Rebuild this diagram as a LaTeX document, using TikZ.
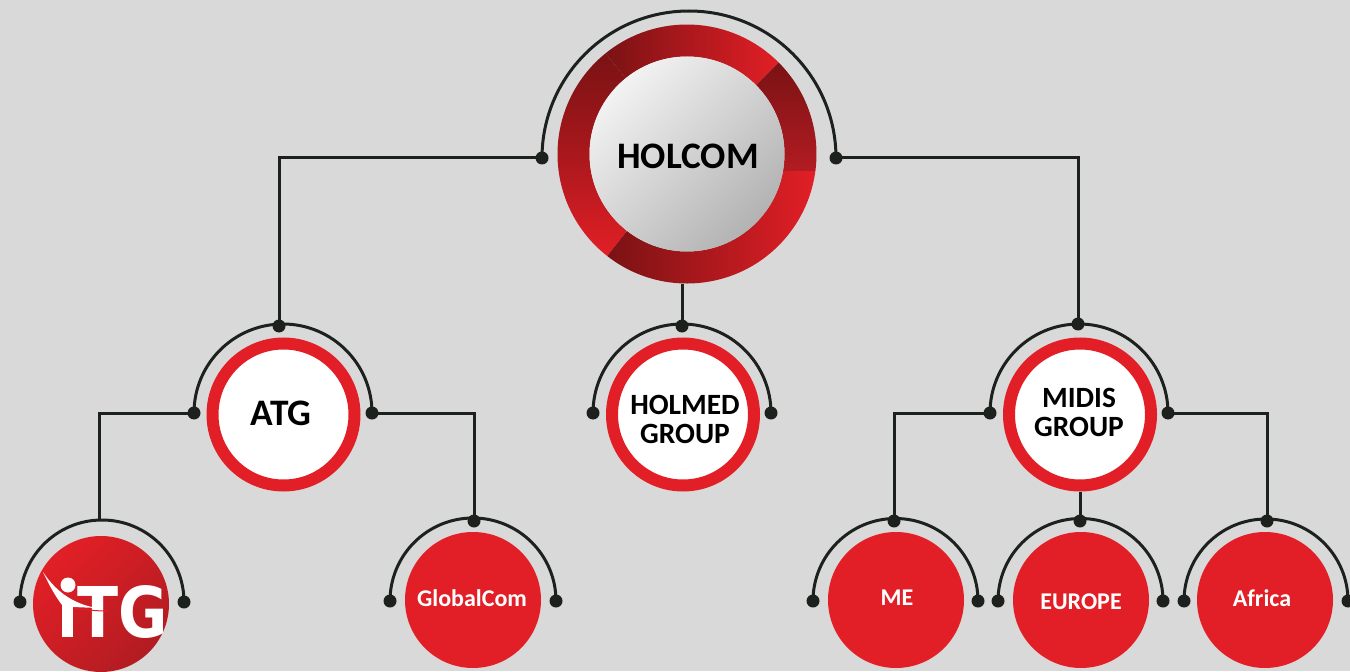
\documentclass[tikz,border=0pt]{standalone}
\usepackage{fontspec}
\setmainfont{Carlito}
\newfontfamily\logofont{DejaVu Sans}
\definecolor{bggray}{HTML}{D9D9D9}
\definecolor{wirecol}{HTML}{1C211E}
\definecolor{redmain}{HTML}{E21F26}
\definecolor{reddark}{HTML}{7A1214}
\definecolor{redmid}{HTML}{B21C22}
\tikzset{
 wire/.style={draw=wirecol,line width=1.5pt},
 dotnode/.style={circle,fill=wirecol,inner sep=0pt,minimum size=6.5pt},
 ringnode/.style={circle,fill=white,draw=redmain,line width=6pt,inner sep=0pt,minimum size=71pt},
 leafnode/.style={circle,fill=redmain,inner sep=0pt,minimum size=68pt},
 ringtext/.style={font=\bfseries\fontsize{18.7}{18.7}\selectfont,align=center,inner sep=0pt},
 leaftext/.style={font=\bfseries\fontsize{12}{14}\selectfont,text=white,inner sep=0pt},
}
\begin{document}
\begin{tikzpicture}[x=0.5pt,y=0.5pt]
 \fill[bggray] (0,0) rectangle (1350,671);
 \useasboundingbox (0,0) rectangle (1350,671);

 \begin{scope}[shift={(687,517)}]
 \shade[left color=reddark,right color=redmain](45:129.5) arc[start angle=45,end angle=129,radius=129.5] -- (129:97.5) arc[start angle=129,end angle=45,radius=97.5] -- cycle;
 \shade[top color=reddark,bottom color=redmain,middle color=reddark!55!redmain](129:129.5) arc[start angle=129,end angle=232,radius=129.5] -- (232:97.5) arc[start angle=232,end angle=129,radius=97.5] -- cycle;
 \shade[left color=reddark,right color=redmain](232:129.5) arc[start angle=232,end angle=352.5,radius=129.5] -- (350:97.5) arc[start angle=350,end angle=232,radius=97.5] -- cycle;
 \shade[top color=reddark,bottom color=redmid](352.5:129.5) arc[start angle=352.5,end angle=405,radius=129.5] -- (405:97.5) arc[start angle=405,end angle=350,radius=97.5] -- cycle;
 \end{scope}
 \node[circle,inner sep=0pt,minimum size=97.5pt,top color=white!95!black,bottom color=black!30,shading angle=45] (holcom) at (687,517) {};
 \node[ringtext] (holcomT) at (688,515) {HOLCOM};

 \node[ringnode] (atg) at (283.5,256.5) {};
 \node[ringtext] (atgT) at (281,258) {ATG};
 \node[ringnode] (holmed) at (683,256.5) {};
 \node[ringtext,font=\bfseries\fontsize{14.7}{14.5}\selectfont] (holmedT) at (685,251.5) {HOLMED\\GROUP};
 \node[ringnode] (midis) at (1080,256.5) {};
 \node[ringtext,font=\bfseries\fontsize{14.7}{14.5}\selectfont] (midisT) at (1079,259) {MIDIS\\GROUP};

 \node[circle,inner sep=0pt,minimum size=68pt,top color=redmain,bottom color=redmid,shading angle=45] (itg) at (101,67) {};
 \node[leafnode] (globalcom) at (473,71) {};
 \node[leaftext] (globalcomT) at (472,73) {GlobalCom};
 \node[leafnode] (me) at (896,71) {};
 \node[leaftext] (meT) at (897,73) {ME};
 \node[leafnode] (europe) at (1081,71) {};
 \node[leaftext] (europeT) at (1081,69) {EUROPE};
 \node[leafnode] (africa) at (1265,71) {};
 \node[leaftext] (africaT) at (1262,73) {Africa};

 \node[font=\logofont\bfseries\fontsize{35}{35}\selectfont,text=white,inner sep=0pt,xscale=0.86] (itgT) at (123,58.5) {TG};
 \fill[white] (62,34) rectangle (73,68);
 \fill[white] (43,99) .. controls (50,84) and (56,74) .. (62,66) -- (73,64) -- (97,63) .. controls (78,66) and (58,76) .. (43,99) -- cycle;
 \fill[white] (68,86) circle[radius=7.5];
 \draw[redmain,line width=0.5pt] (73,63) .. controls (85,61) and (97,60) .. (108,60);

 \node[dotnode] (holL) at (542,513) {};
 \node[dotnode] (holR) at (836,513) {};
 \coordinate (holB) at (682,387);
 \node[dotnode] (atgTop) at (279,345) {};
 \node[dotnode] (atgL) at (194,258) {};
 \node[dotnode] (atgR) at (372,258) {};
 \node[dotnode] (holmedTop) at (682,345) {};
 \node[dotnode] (holmedL) at (593,258) {};
 \node[dotnode] (holmedR) at (771,258) {};
 \node[dotnode] (midisTop) at (1078,347) {};
 \node[dotnode] (midisL) at (990,258) {};
 \node[dotnode] (midisR) at (1168,258) {};
 \coordinate (itgTop) at (99,151);
 \node[dotnode] (itgL) at (20,69) {};
 \node[dotnode] (itgR) at (184,69) {};
 \node[dotnode] (gcTop) at (474,150) {};
 \node[dotnode] (gcL) at (390,70) {};
 \node[dotnode] (gcR) at (556,70) {};
 \node[dotnode] (meTop) at (894,150) {};
 \node[dotnode] (meL) at (813,70) {};
 \node[dotnode] (meR) at (978,70) {};
 \node[dotnode] (euTop) at (1080,150) {};
 \node[dotnode] (euL) at (998,70) {};
 \node[dotnode] (euR) at (1163,70) {};
 \node[dotnode] (afTop) at (1267,150) {};
 \node[dotnode] (afL) at (1184,70) {};
 \node[dotnode] (afR) at (1348,70) {};

 \draw[wire] (holL.center) arc[start angle=180,end angle=0,radius=147];
 \draw[wire] (atgL.center) arc[start angle=180,end angle=0,radius=89];
 \draw[wire] (holmedL.center) arc[start angle=180,end angle=0,radius=89];
 \draw[wire] (midisL.center) arc[start angle=180,end angle=0,radius=89];
 \draw[wire] (itgL.center) arc[start angle=180,end angle=0,radius=82];
 \draw[wire] (gcL.center) arc[start angle=180,end angle=0,radius=83];
 \draw[wire] (meL.center) arc[start angle=180,end angle=0,radius=82.5];
 \draw[wire] (euL.center) arc[start angle=180,end angle=0,radius=82.5];
 \draw[wire] (afL.center) arc[start angle=180,end angle=0,radius=82];

 \draw[wire] (holL.center) -| (atgTop.center);
 \draw[wire] (holR.center) -| (midisTop.center);
 \draw[wire] (holB) -- (holmedTop.center);
 \draw[wire] (atgL.center) -| (itgTop);
 \draw[wire] (atgR.center) -| (gcTop.center);
 \draw[wire] (midisL.center) -| (meTop.center);
 \draw[wire] (midisR.center) -| (afTop.center);
 \draw[wire] (midis.south) -- (euTop.center);
\end{tikzpicture}
\end{document}
